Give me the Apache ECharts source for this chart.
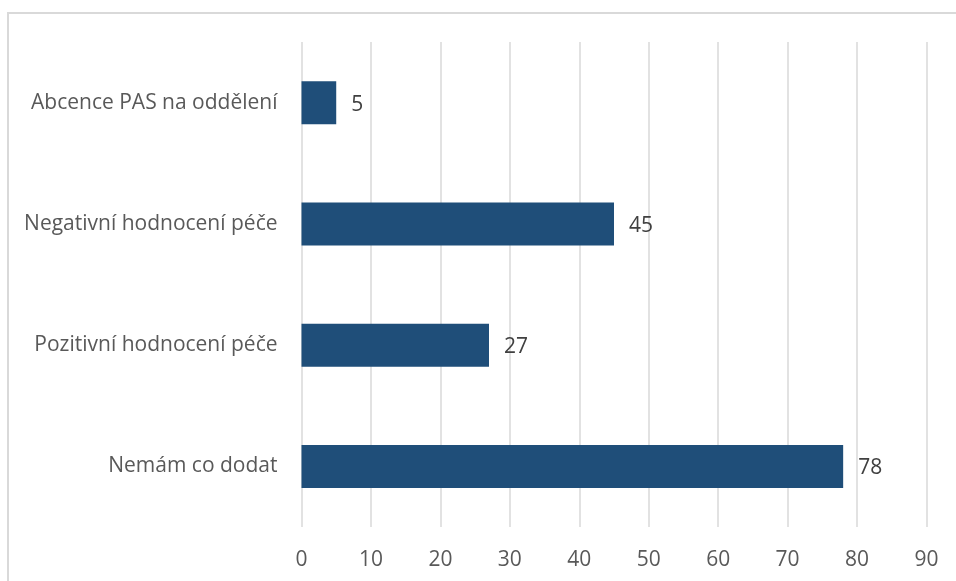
<!DOCTYPE html>
<html>
<head>
<meta charset="utf-8">
<script src="https://cdn.jsdelivr.net/npm/echarts@6/dist/echarts.min.js"></script>
<style>
  html, body { margin: 0; padding: 0; background: #fff; overflow: hidden; }
  #frame { position: absolute; left: 7px; top: 12px; width: 960px; height: 580px;
           border-left: 2px solid #d9d9d9; border-top: 2px solid #d9d9d9; box-sizing: border-box; }
  #chart { position: absolute; left: 0; top: 0; width: 956px; height: 581px; }
</style>
</head>
<body>
<div id="frame"></div>
<div id="chart"></div>
<script>
// Answer categories, top to bottom
const categories = [
  'Abcence PAS na oddělení',
  'Negativní hodnocení péče',
  'Pozitivní hodnocení péče',
  'Nemám co dodat'
];
// Number of responses per category
const counts = [5, 45, 27, 78];
// Value axis range
const axisMin = 0;
const axisMax = 90;
const axisStep = 10;

const font = '"Open Sans", "Liberation Sans", sans-serif';

const chart = echarts.init(document.getElementById('chart'), null, { renderer: 'canvas' });
chart.setOption({
  animation: false,
  backgroundColor: 'transparent',
  grid: { left: 301.5, right: 29.5, top: 42, bottom: 54, containLabel: false },
  xAxis: {
    type: 'value',
    min: axisMin,
    max: axisMax,
    interval: axisStep,
    axisLine: { show: false },
    axisTick: { show: false },
    splitLine: { show: true, lineStyle: { color: '#d9d9d9', width: 1.5 } },
    axisLabel: { color: '#595959', fontSize: 21, fontFamily: font, margin: 23 }
  },
  yAxis: {
    type: 'category',
    data: categories,
    inverse: true,
    axisLine: { show: false },
    axisTick: { show: false },
    axisLabel: { color: '#595959', fontSize: 21, fontFamily: font, margin: 24 }
  },
  series: [{
    type: 'bar',
    data: counts,
    barWidth: 43,
    itemStyle: { color: '#1f4e79' },
    label: {
      show: true,
      position: 'right',
      distance: 15,
      offset: [0, 2],
      color: '#404040',
      fontSize: 21,
      fontFamily: font
    }
  }]
});
</script>
</body>
</html>
